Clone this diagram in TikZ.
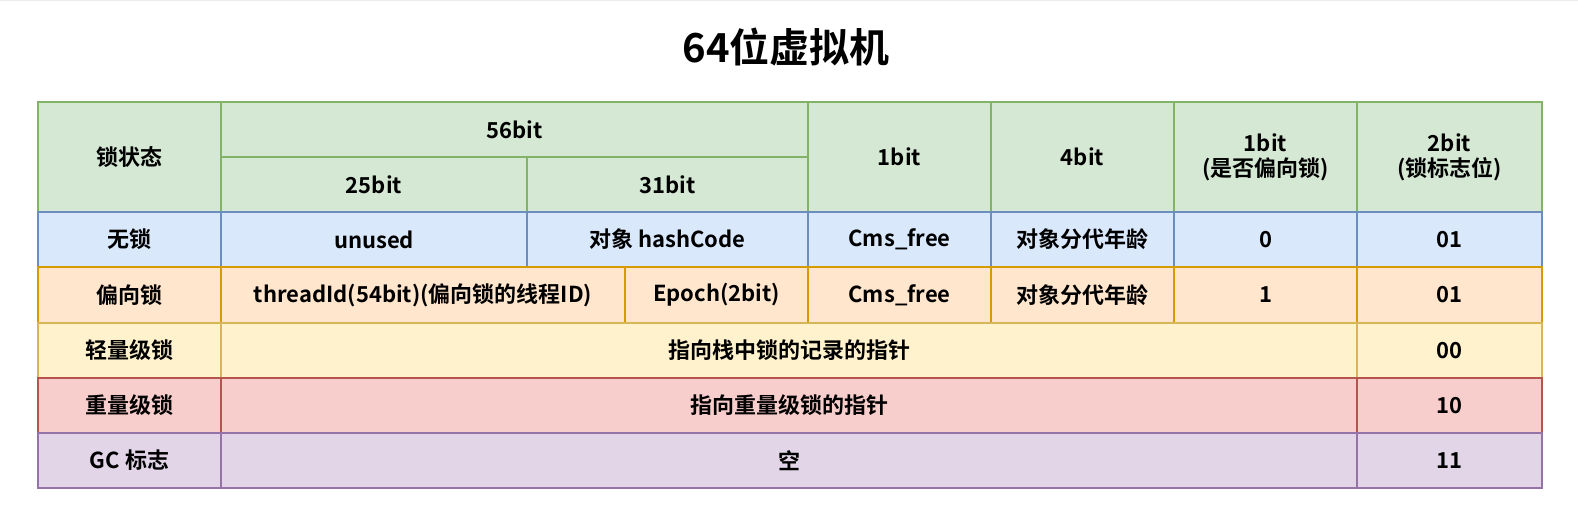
\documentclass[tikz,border=0pt]{standalone}
\usepackage{fontspec}
\setmainfont{Noto Sans CJK SC}[BoldFont={* Bold}]
\definecolor{gF}{HTML}{D5E8D4}\definecolor{gD}{HTML}{82B366}
\definecolor{bF}{HTML}{DAE8FC}\definecolor{bD}{HTML}{6C8EBF}
\definecolor{oF}{HTML}{FFE6CC}\definecolor{oD}{HTML}{D79B00}
\definecolor{yF}{HTML}{FFF2CC}\definecolor{yD}{HTML}{D6B656}
\definecolor{rF}{HTML}{F8CECC}\definecolor{rD}{HTML}{B85450}
\definecolor{pF}{HTML}{E1D5E7}\definecolor{pD}{HTML}{9673A6}
\tikzset{cell/.style={rectangle,inner sep=0pt,line width=1.5pt,font=\bfseries\fontsize{22}{25}\selectfont,align=center},
 grn/.style={cell,fill=gF,draw=gD}, blu/.style={cell,fill=bF,draw=bD},
 org/.style={cell,fill=oF,draw=oD}, yel/.style={cell,fill=yF,draw=yD},
 red/.style={cell,fill=rF,draw=rD}, pur/.style={cell,fill=pF,draw=pD}}
\newcommand\cellbox[7]{\node[#6,minimum width={(#4-#2)*1pt},minimum height={(#5-#3)*1pt}] (#1) at ({(#2+#4)/2},{(#3+#5)/2}) {#7};}
\begin{document}
\begin{tikzpicture}[x=1pt,y=-1pt]
\useasboundingbox (0,0) rectangle (1578,512);
\fill[white] (0,0) rectangle (1578,512);
\draw[black!7,step=20pt] (0,0) grid (1578,-512);
\node[font=\bfseries\fontsize{40}{44}\selectfont] (title) at (786,47) {64位虚拟机};
% header
\cellbox{h0}{38}{102}{221}{212}{grn}{锁状态}
\cellbox{h56}{221}{102}{808}{157}{grn}{56bit}
\cellbox{h25}{221}{157}{527}{212}{grn}{25bit}
\cellbox{h31}{527}{157}{808}{212}{grn}{31bit}
\cellbox{h1}{808}{102}{991}{212}{grn}{1bit}
\cellbox{h4}{991}{102}{1174}{212}{grn}{4bit}
\cellbox{hb}{1174}{102}{1357}{212}{grn}{1bit\\(是否偏向锁)}
\cellbox{hf}{1357}{102}{1542}{212}{grn}{2bit\\(锁标志位)}
% row 1
\cellbox{a0}{38}{212}{221}{267}{blu}{无锁}
\cellbox{a1}{221}{212}{527}{267}{blu}{unused}
\cellbox{a2}{527}{212}{808}{267}{blu}{对象 hashCode}
\cellbox{a3}{808}{212}{991}{267}{blu}{Cms\_free}
\cellbox{a4}{991}{212}{1174}{267}{blu}{对象分代年龄}
\cellbox{a5}{1174}{212}{1357}{267}{blu}{0}
\cellbox{a6}{1357}{212}{1542}{267}{blu}{01}
% row 2
\cellbox{b0}{38}{267}{221}{323}{org}{偏向锁}
\cellbox{b1}{221}{267}{625}{323}{org}{threadId(54bit)(偏向锁的线程ID)}
\cellbox{b2}{625}{267}{808}{323}{org}{Epoch(2bit)}
\cellbox{b3}{808}{267}{991}{323}{org}{Cms\_free}
\cellbox{b4}{991}{267}{1174}{323}{org}{对象分代年龄}
\cellbox{b5}{1174}{267}{1357}{323}{org}{1}
\cellbox{b6}{1357}{267}{1542}{323}{org}{01}
% row 3
\cellbox{c0}{38}{323}{221}{378}{yel}{轻量级锁}
\cellbox{c1}{221}{323}{1357}{378}{yel}{指向栈中锁的记录的指针}
\cellbox{c2}{1357}{323}{1542}{378}{yel}{00}
% row 4
\cellbox{d0}{38}{378}{221}{433}{red}{重量级锁}
\cellbox{d1}{221}{378}{1357}{433}{red}{指向重量级锁的指针}
\cellbox{d2}{1357}{378}{1542}{433}{red}{10}
% row 5
\cellbox{e0}{38}{433}{221}{488}{pur}{GC 标志}
\cellbox{e1}{221}{433}{1357}{488}{pur}{空}
\cellbox{e2}{1357}{433}{1542}{488}{pur}{11}
\end{tikzpicture}
\end{document}
